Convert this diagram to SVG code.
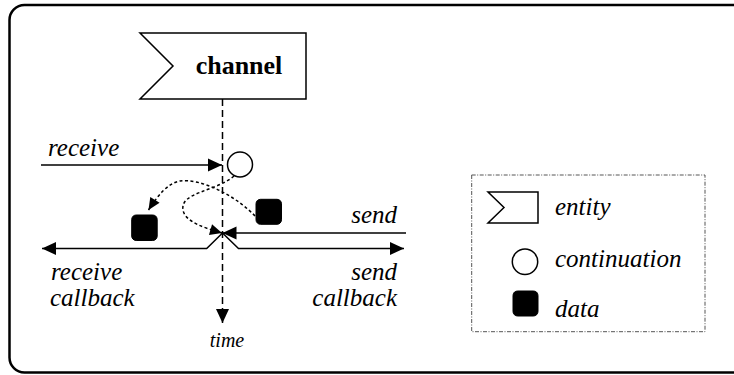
<svg xmlns="http://www.w3.org/2000/svg" width="734" height="375" viewBox="0 0 734 375">
<style>
.lbl{font-style:italic;font-size:25px;fill:#000}
.ttl{font-weight:bold;font-size:26px;fill:#000}
.ln{fill:none;stroke:#000;stroke-width:1.5}
.dot{fill:none;stroke:#000;stroke-width:1.5;stroke-dasharray:3 2.5}
.shape{fill:#fff;stroke:#000;stroke-width:1.5}
.data{fill:#000;stroke:#000;stroke-width:1}
</style>
<defs>
<marker id="ah" markerUnits="userSpaceOnUse" markerWidth="15" markerHeight="14" refX="14" refY="6.5" orient="auto" overflow="visible">
<path d="M0,0 L14,6.5 L0,13 z" fill="#000"/>
</marker>
<marker id="ahs" markerUnits="userSpaceOnUse" markerWidth="13" markerHeight="12" refX="12" refY="5.5" orient="auto" overflow="visible">
<path d="M0,0 L12,5.5 L0,11 z" fill="#000"/>
</marker>
</defs>
<rect width="734" height="375" fill="#fff"/>
<path id="frame" d="M736 372.5 H24.5 A15 15 0 0 1 9.5 357.5 V20 A15 15 0 0 1 24.5 5 H736" fill="none" stroke="#000" stroke-width="2.5"/>

<g id="connectors">
<line class="ln" x1="222.5" y1="99" x2="222.5" y2="323" stroke-dasharray="7 4" marker-end="url(#ah)"/>
<line class="ln" x1="41" y1="165" x2="222" y2="165" marker-end="url(#ah)"/>
<line class="ln" x1="406" y1="233" x2="222.5" y2="233" marker-end="url(#ah)"/>
<polyline class="ln" points="222.5,233 206.7,248.5 42,248.5" marker-end="url(#ah)"/>
<polyline class="ln" points="222.5,233 238.5,248.5 404,248.5" marker-end="url(#ah)"/>
<path class="dot" d="M234 176 C215 192 180 192 183 210 C185 222 205 228 222 233" marker-end="url(#ahs)"/>
<path class="dot" d="M255 216 C235 195 200 178 180 181 C168 183 158 195 148.5 210" marker-end="url(#ahs)"/>
</g>

<g id="channel" font-family="'Liberation Serif', 'Times New Roman', serif">
<polygon class="shape" points="140,33 306,33 306,99 140,99 173,66"/>
<text class="ttl" x="239" y="74" text-anchor="middle">channel</text>
</g>
<g id="continuation">
<circle class="shape" cx="240" cy="164.5" r="12.5"/>
</g>
<g id="data-left">
<rect class="data" x="131.7" y="215" width="25.5" height="25.5" rx="4.5"/>
</g>
<g id="data-right">
<rect class="data" x="256" y="199.3" width="25.5" height="25" rx="4.5"/>
</g>

<g id="labels" font-family="'Liberation Serif', 'Times New Roman', serif">
<text class="lbl" x="48" y="156">receive</text>
<text class="lbl" x="397" y="223" text-anchor="end">send</text>
<text class="lbl" x="51" y="280">receive</text>
<text class="lbl" x="50" y="305.5">callback</text>
<text class="lbl" x="397" y="280" text-anchor="end">send</text>
<text class="lbl" x="397" y="305.5" text-anchor="end">callback</text>
<text class="lbl" x="227" y="347" text-anchor="middle" style="font-size:20px">time</text>
</g>

<g id="legend" font-family="'Liberation Serif', 'Times New Roman', serif">
<rect x="471.7" y="175" width="233.3" height="156.7" fill="none" stroke="#555" stroke-width="1" stroke-dasharray="4 1.5 1 1.5"/>
<g id="legend-entity">
<polygon class="shape" points="488,192 538,192 538,223 488,223 504,207.5"/>
<text class="lbl" x="555" y="215">entity</text>
</g>
<g id="legend-continuation">
<circle class="shape" cx="525" cy="261.7" r="12.7"/>
<text class="lbl" x="555" y="267">continuation</text>
</g>
<g id="legend-data">
<rect class="data" x="513" y="291" width="25" height="25" rx="4.5"/>
<text class="lbl" x="555" y="317">data</text>
</g>
</g>
</svg>
